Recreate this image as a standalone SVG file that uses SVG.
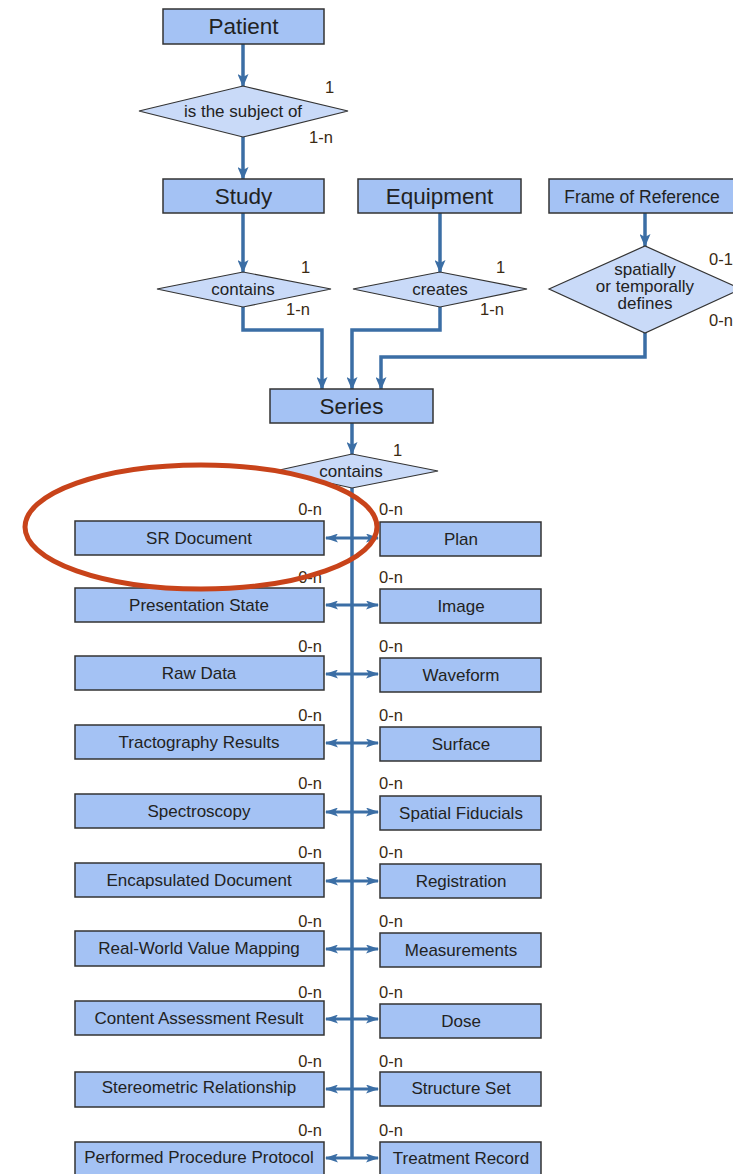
<svg xmlns="http://www.w3.org/2000/svg" width="733" height="1174" viewBox="0 0 733 1174">
<defs>
<style>
.box{fill:#a4c2f4;stroke:#333;stroke-width:1.5}
.dia{fill:#c9daf8;stroke:#333;stroke-width:1.2}
.h{font-family:"Liberation Sans",Arial,sans-serif;font-size:22.5px;fill:#222;text-anchor:middle}
.t{font-family:"Liberation Sans",Arial,sans-serif;font-size:17px;fill:#222;text-anchor:middle}
.r{font-family:"Liberation Sans",Arial,sans-serif;font-size:17px;fill:#222;text-anchor:middle}
.c{font-family:"Liberation Sans",Arial,sans-serif;font-size:16.5px;fill:#3a2a12}
.ln{fill:none;stroke:#3b6ea5;stroke-width:3.5}
.ar{fill:none;stroke:#3b6ea5;stroke-width:3;marker-end:url(#ah);marker-start:url(#as)}
</style>
<marker id="a" markerWidth="11" markerHeight="13" refX="5.5" refY="12" orient="0" markerUnits="userSpaceOnUse"><path d="M0,0 L5.5,3 L11,0 L5.5,13 Z" fill="#3b6ea5"/></marker>
<marker id="ah" markerWidth="13" markerHeight="9" refX="12" refY="4.5" orient="auto" markerUnits="userSpaceOnUse"><path d="M0,0 L13,4.5 L0,9 L3,4.5 Z" fill="#3b6ea5"/></marker>
<marker id="as" markerWidth="13" markerHeight="9" refX="1" refY="4.5" orient="auto" markerUnits="userSpaceOnUse"><path d="M13,0 L0,4.5 L13,9 L10,4.5 Z" fill="#3b6ea5"/></marker>
</defs>
<rect width="733" height="1174" fill="#fff"/>

<g id="connectors">
<path class="ln" d="M243,44 V86" marker-end="url(#a)"/>
<path class="ln" d="M243,137 V179" marker-end="url(#a)"/>
<path class="ln" d="M243,213 V272" marker-end="url(#a)"/>
<path class="ln" d="M440,213 V272" marker-end="url(#a)"/>
<path class="ln" d="M645,213 V246" marker-end="url(#a)"/>
<path class="ln" d="M243,307 V330 H322 V389" marker-end="url(#a)"/>
<path class="ln" d="M440,307 V330 H352 V389" marker-end="url(#a)"/>
<path class="ln" d="M645,333 V357 H381 V389" marker-end="url(#a)"/>
<path class="ln" d="M352,423 V454" marker-end="url(#a)"/>
<path class="ln" d="M352,488 V1158"/>
<path class="ar" d="M326,538 H378"/>
<path class="ar" d="M326,605 H378"/>
<path class="ar" d="M326,674 H378"/>
<path class="ar" d="M326,743 H378"/>
<path class="ar" d="M326,812 H378"/>
<path class="ar" d="M326,881 H378"/>
<path class="ar" d="M326,949 H378"/>
<path class="ar" d="M326,1019 H378"/>
<path class="ar" d="M326,1089 H378"/>
<path class="ar" d="M326,1158 H378"/>
</g>

<g id="patient"><rect class="box" x="163" y="9" width="161" height="35"/><text class="h" x="243.5" y="34">Patient</text></g>
<g id="subject-of"><polygon class="dia" points="139,111 243,86 348,111 243,137"/><text class="t" x="243" y="117">is the subject of</text>
<text class="c" x="325" y="93">1</text><text class="c" x="309" y="143">1-n</text></g>

<g id="study"><rect class="box" x="163" y="179" width="161" height="34"/><text class="h" x="243.5" y="204">Study</text></g>
<g id="equipment"><rect class="box" x="358" y="179" width="163" height="34"/><text class="h" x="439.5" y="204">Equipment</text></g>
<g id="frame-of-reference"><rect class="box" x="549" y="179" width="190" height="34"/><text class="h" x="642" y="203" style="font-size:17.5px">Frame of Reference</text></g>

<g id="study-contains"><polygon class="dia" points="157,289 243,272 331,289 243,307"/><text class="t" x="243" y="295">contains</text>
<text class="c" x="301" y="273">1</text><text class="c" x="286" y="315">1-n</text></g>
<g id="equipment-creates"><polygon class="dia" points="353,289 440,272 527,289 440,307"/><text class="t" x="440" y="295">creates</text>
<text class="c" x="496" y="273">1</text><text class="c" x="480" y="315">1-n</text></g>
<g id="spatially-defines"><polygon class="dia" points="549,289 645,246 741,289 645,333"/>
<text class="t" x="645" y="275">spatially</text><text class="t" x="645" y="292">or temporally</text><text class="t" x="645" y="309">defines</text>
<text class="c" x="709" y="265">0-1</text><text class="c" x="709" y="326">0-n</text></g>

<g id="series"><rect class="box" x="270" y="389" width="163" height="34"/><text class="h" x="351.5" y="414">Series</text></g>
<g id="series-contains"><polygon class="dia" points="275,471 352,454 438,471 352,488"/><text class="t" x="351" y="477">contains</text>
<text class="c" x="393" y="456">1</text></g>

<g id="sr-document"><rect class="box" x="75" y="521" width="249" height="34"/><text class="r" x="199" y="544">SR Document</text><text class="c" x="322" y="515" text-anchor="end">0-n</text></g>
<g id="plan"><rect class="box" x="380" y="522" width="161" height="34"/><text class="r" x="461" y="545">Plan</text><text class="c" x="379" y="515">0-n</text></g>

<g id="presentation-state"><rect class="box" x="75" y="588" width="249" height="34"/><text class="r" x="199" y="611">Presentation State</text><text class="c" x="322" y="583" text-anchor="end">0-n</text></g>
<g id="image"><rect class="box" x="380" y="589" width="161" height="34"/><text class="r" x="461" y="612">Image</text><text class="c" x="379" y="583">0-n</text></g>

<g id="raw-data"><rect class="box" x="75" y="656" width="249" height="34"/><text class="r" x="199" y="679">Raw Data</text><text class="c" x="322" y="652" text-anchor="end">0-n</text></g>
<g id="waveform"><rect class="box" x="380" y="658" width="161" height="34"/><text class="r" x="461" y="681">Waveform</text><text class="c" x="379" y="652">0-n</text></g>

<g id="tractography-results"><rect class="box" x="75" y="725" width="249" height="34"/><text class="r" x="199" y="748">Tractography Results</text><text class="c" x="322" y="721" text-anchor="end">0-n</text></g>
<g id="surface"><rect class="box" x="380" y="727" width="161" height="34"/><text class="r" x="461" y="750">Surface</text><text class="c" x="379" y="721">0-n</text></g>

<g id="spectroscopy"><rect class="box" x="75" y="794" width="249" height="34"/><text class="r" x="199" y="817">Spectroscopy</text><text class="c" x="322" y="789" text-anchor="end">0-n</text></g>
<g id="spatial-fiducials"><rect class="box" x="380" y="796" width="161" height="34"/><text class="r" x="461" y="819">Spatial Fiducials</text><text class="c" x="379" y="789">0-n</text></g>

<g id="encapsulated-document"><rect class="box" x="75" y="863" width="249" height="34"/><text class="r" x="199" y="886">Encapsulated Document</text><text class="c" x="322" y="858" text-anchor="end">0-n</text></g>
<g id="registration"><rect class="box" x="380" y="864" width="161" height="34"/><text class="r" x="461" y="887">Registration</text><text class="c" x="379" y="858">0-n</text></g>

<g id="real-world-value-mapping"><rect class="box" x="75" y="931" width="249" height="35"/><text class="r" x="199" y="954">Real-World Value Mapping</text><text class="c" x="322" y="927" text-anchor="end">0-n</text></g>
<g id="measurements"><rect class="box" x="380" y="933" width="161" height="34"/><text class="r" x="461" y="956">Measurements</text><text class="c" x="379" y="927">0-n</text></g>

<g id="content-assessment-result"><rect class="box" x="75" y="1001" width="249" height="34"/><text class="r" x="199" y="1024">Content Assessment Result</text><text class="c" x="322" y="998" text-anchor="end">0-n</text></g>
<g id="dose"><rect class="box" x="380" y="1004" width="161" height="34"/><text class="r" x="461" y="1027">Dose</text><text class="c" x="379" y="998">0-n</text></g>

<g id="stereometric-relationship"><rect class="box" x="75" y="1072" width="249" height="35"/><text class="r" x="199" y="1093">Stereometric Relationship</text><text class="c" x="322" y="1067" text-anchor="end">0-n</text></g>
<g id="structure-set"><rect class="box" x="380" y="1072" width="161" height="34"/><text class="r" x="461" y="1094">Structure Set</text><text class="c" x="379" y="1067">0-n</text></g>

<g id="performed-procedure-protocol"><rect class="box" x="75" y="1142" width="249" height="35"/><text class="r" x="199" y="1163">Performed Procedure Protocol</text><text class="c" x="322" y="1136" text-anchor="end">0-n</text></g>
<g id="treatment-record"><rect class="box" x="380" y="1142" width="161" height="35"/><text class="r" x="461" y="1164">Treatment Record</text><text class="c" x="379" y="1136">0-n</text></g>

<ellipse id="highlight" cx="201" cy="527" rx="176" ry="62" fill="none" stroke="#c8431a" stroke-width="5"/>
</svg>
